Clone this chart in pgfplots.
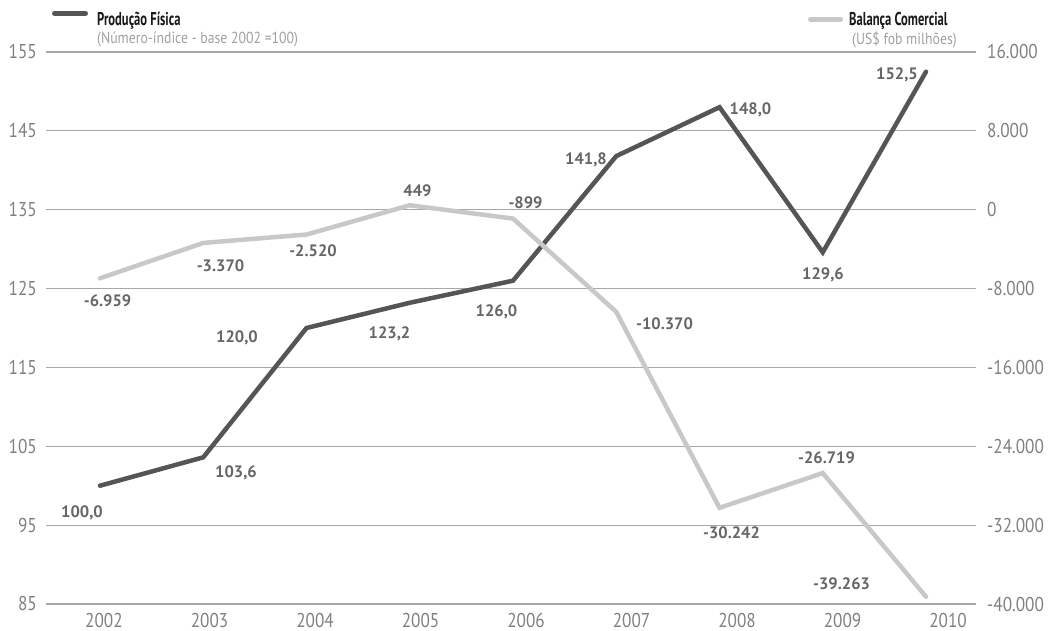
\documentclass[border=0pt]{standalone}
\usepackage{fontspec}
\setmainfont{PT Sans}
\newfontfamily\tickfont[FakeStretch=0.86]{PT Sans}
\newfontfamily\legfont[FakeStretch=0.68]{PT Sans}
\usepackage{pgfplots}
\pgfplotsset{compat=1.18}
\definecolor{darkline}{HTML}{555555}
\definecolor{lightline}{HTML}{C8C8C8}
\definecolor{gridc}{HTML}{A8A8A8}
\definecolor{tickc}{HTML}{808080}
\definecolor{labc}{HTML}{666666}
\definecolor{subc}{HTML}{A0A0A0}
\tikzset{
 lab/.style={font=\bfseries\fontsize{16.5bp}{20bp}\selectfont, text=labc, inner sep=0pt, text depth=0pt, anchor=center},
 tickf/.style={font=\tickfont\fontsize{20bp}{24bp}\selectfont, text=tickc, inner sep=0pt},
}
\pgfplotsset{
 common/.style={
  scale only axis, width=930bp, height=552bp,
  xmin=2001.477, xmax=2010.484,
  axis line style={draw=none},
  major tick length=0pt,
  clip=false,
  scaled y ticks=false,
  every axis plot/.append style={line width=4.5bp, line cap=round, line join=miter},
 },
}
\begin{document}
\begin{tikzpicture}
\path[use as bounding box] (0,0) rectangle (1060bp,631bp);
\begin{axis}[common, at={(46bp,27bp)}, anchor=south west,
  ymin=85, ymax=155, ytick={85,95,105,115,125,135,145,155},
  yticklabels={85,95,105,115,125,135,145,155},
  ymajorgrids, grid style={gridc, line width=1.2bp},
  yticklabel style={tickf, anchor=east, xshift=-9bp},
  xtick={2002.0387,2003.0605,2004.0823,2005.1041,2006.1259,2007.1477,2008.1695,2009.1913,2010.2131},
  xticklabels={2002,2003,2004,2005,2006,2007,2008,2009,2010},
  xticklabel style={tickf, anchor=north, yshift=-9bp},
]
\addplot[darkline] coordinates {(2002,100.0) (2003,103.6) (2004,120.0) (2005,123.2) (2006,126.0) (2007,141.8) (2008,148.0) (2009,129.6) (2010,152.5)};
\node[lab] at (axis cs:2001.826,96.73) {100,0};
\node[lab] at (axis cs:2003.317,101.74) {103,6};
\node[lab] at (axis cs:2003.327,118.86) {120,0};
\node[lab] at (axis cs:2004.804,119.43) {123,2};
\node[lab] at (axis cs:2005.840,122.15) {126,0};
\node[lab] at (axis cs:2006.707,141.49) {141,8};
\node[lab] at (axis cs:2008.300,147.83) {148,0};
\node[lab] at (axis cs:2009.002,126.85) {129,6};
\node[lab] at (axis cs:2009.719,152.21) {152,5};
\end{axis}
\begin{axis}[common, at={(46bp,27bp)}, anchor=south west,
  ymin=-40000, ymax=16000,
  ytick={-40000,-32000,-24000,-16000,-8000,0,8000,16000},
  yticklabels={-40.000,-32.000,-24.000,-16.000,-8.000,0,8.000,16.000},
  yticklabel pos=right,
  yticklabel style={tickf, anchor=west, xshift=11bp},
  xtick=\empty,
]
\addplot[lightline] coordinates {(2002,-6959) (2003,-3370) (2004,-2520) (2005,449) (2006,-899) (2007,-10370) (2008,-30242) (2009,-26719) (2010,-39263)};
\node[lab] at (axis cs:2002.073,-9264) {-6.959};
\node[lab] at (axis cs:2003.167,-5712) {-3.370};
\node[lab] at (axis cs:2004.063,-4192) {-2.520};
\node[lab] at (axis cs:2005.075,1896) {449};
\node[lab] at (axis cs:2006.121,728) {-899};
\node[lab] at (axis cs:2007.467,-11544) {-10.370};
\node[lab] at (axis cs:2008.116,-32744) {-30.242};
\node[lab] at (axis cs:2009.036,-25192) {-26.719};
\node[lab] at (axis cs:2009.182,-37920) {-39.263};
\end{axis}
% legend
\draw[darkline, line width=5bp, line cap=round] (54.5bp,617.5bp) -- (85.5bp,617.5bp);
\node[anchor=base west, inner sep=0pt, font=\legfont\bfseries\fontsize{18.5bp}{22bp}\selectfont, text=black!90] at (97bp,605.5bp) {Produção Física};
\node[anchor=base west, inner sep=0pt, font=\tickfont\fontsize{16bp}{19bp}\selectfont, text=subc] at (97bp,587bp) {(Número-índice - base 2002 =100)};
\draw[lightline, line width=5bp, line cap=round] (810.5bp,611.7bp) -- (840.5bp,611.7bp);
\node[anchor=base west, inner sep=0pt, font=\legfont\bfseries\fontsize{18.5bp}{22bp}\selectfont, text=black!90] at (849bp,605bp) {Balança Comercial};
\node[anchor=base west, inner sep=0pt, font=\tickfont\fontsize{16bp}{19bp}\selectfont, text=subc] at (852bp,586bp) {(US\$ fob milhões)};
\end{tikzpicture}
\end{document}
